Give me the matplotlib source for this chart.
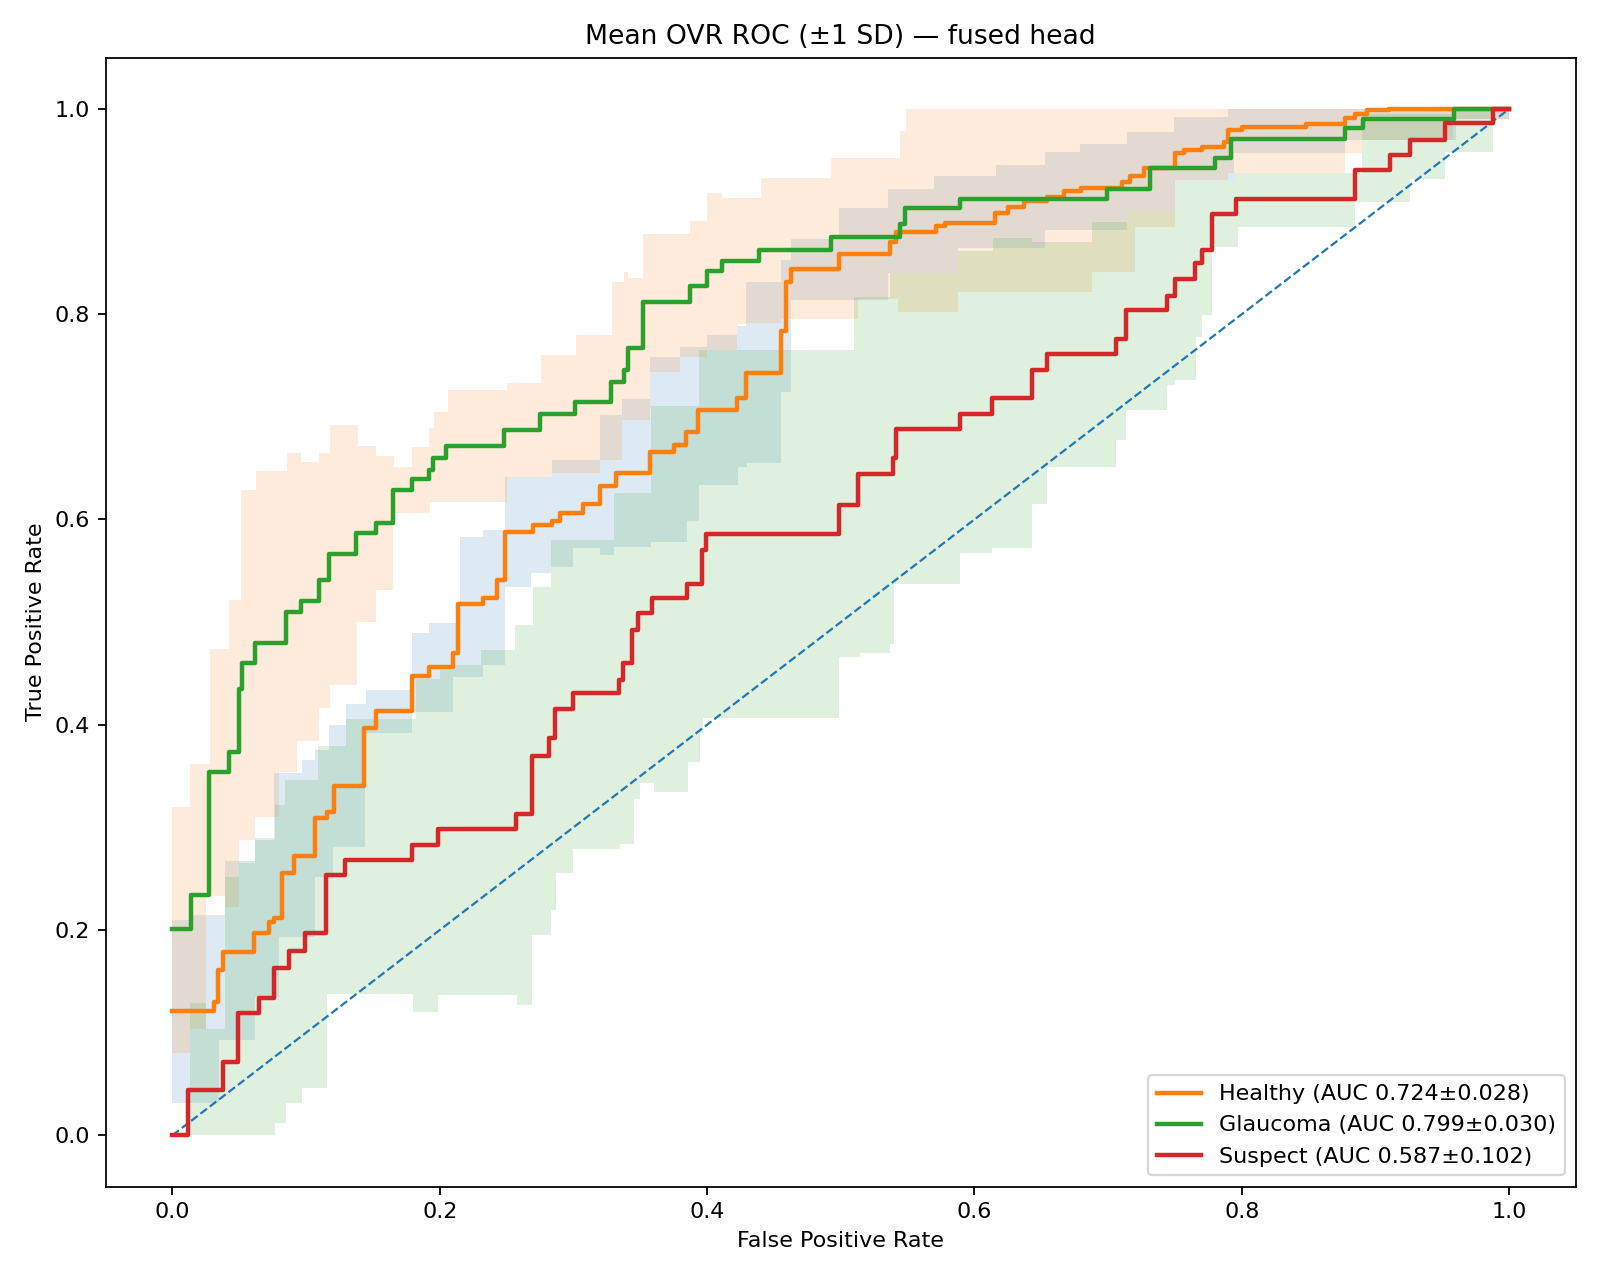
import numpy as np
import matplotlib
matplotlib.use("Agg")
import matplotlib.pyplot as plt

# mean TPR curves, step breakpoints (fpr, tpr)
healthy_fpr = [0.0, 0.031, 0.034, 0.038, 0.061, 0.072, 0.076, 0.082, 0.091, 0.107,
               0.116, 0.121, 0.143, 0.152, 0.179, 0.192, 0.210, 0.214, 0.232, 0.243,
               0.249, 0.270, 0.284, 0.290, 0.307, 0.320, 0.332, 0.357, 0.375, 0.384,
               0.393, 0.422, 0.429, 0.455, 0.459, 0.463, 0.499, 0.537, 0.541, 0.571,
               0.578, 0.615, 0.625, 0.637, 0.654, 0.667, 0.680, 0.710, 0.716, 0.727,
               0.750, 0.757, 0.770, 0.787, 0.790, 0.800, 0.848, 0.877, 0.885, 0.894,
               0.910, 1.0]
healthy_tpr = [0.121, 0.130, 0.161, 0.179, 0.197, 0.208, 0.212, 0.256, 0.272, 0.309,
               0.315, 0.340, 0.3965, 0.413, 0.447, 0.4565, 0.470, 0.518, 0.523, 0.541,
               0.588, 0.5945, 0.598, 0.606, 0.615, 0.633, 0.645, 0.666, 0.6725, 0.685,
               0.7065, 0.7186, 0.743, 0.784, 0.8315, 0.844, 0.8585, 0.870, 0.880, 0.886,
               0.889, 0.899, 0.904, 0.910, 0.914, 0.920, 0.923, 0.929, 0.935, 0.942,
               0.957, 0.960, 0.963, 0.968, 0.979, 0.982, 0.985, 0.9916, 0.995, 0.9987,
               1.0, 1.0]

glaucoma_fpr = [0.0, 0.014, 0.027, 0.042, 0.050, 0.052, 0.062, 0.085, 0.096, 0.110,
                0.117, 0.137, 0.152, 0.165, 0.179, 0.192, 0.195, 0.205, 0.248, 0.275,
                0.301, 0.328, 0.3375, 0.341, 0.352, 0.387, 0.400, 0.411, 0.439, 0.493,
                0.544, 0.548, 0.589, 0.699, 0.731, 0.780, 0.792, 0.877, 0.891, 0.959, 1.0]
glaucoma_tpr = [0.201, 0.234, 0.354, 0.373, 0.435, 0.460, 0.480, 0.510, 0.5205, 0.541,
                0.566, 0.5865, 0.597, 0.6286, 0.639, 0.648, 0.660, 0.672, 0.687, 0.7026,
                0.714, 0.734, 0.746, 0.7666, 0.812, 0.827, 0.842, 0.852, 0.8624, 0.8753,
                0.888, 0.903, 0.912, 0.9218, 0.942, 0.9517, 0.971, 0.981, 0.9906, 1.0, 1.0]

suspect_fpr = [0.0, 0.012, 0.038, 0.049, 0.065, 0.076, 0.087, 0.099, 0.115, 0.129,
               0.179, 0.199, 0.257, 0.269, 0.282, 0.286, 0.300, 0.334, 0.337, 0.344,
               0.348, 0.359, 0.385, 0.396, 0.399, 0.499, 0.513, 0.539, 0.541, 0.589,
               0.613, 0.643, 0.654, 0.706, 0.713, 0.744, 0.750, 0.765, 0.770, 0.778,
               0.796, 0.885, 0.911, 0.926, 0.952, 0.988, 1.0]
suspect_tpr = [0.0, 0.0436, 0.0718, 0.1195, 0.1335, 0.163, 0.180, 0.197, 0.2536, 0.268,
               0.2826, 0.298, 0.3127, 0.3698, 0.3867, 0.415, 0.4306, 0.444, 0.4598, 0.4923,
               0.5085, 0.523, 0.537, 0.570, 0.5858, 0.614, 0.644, 0.6595, 0.688, 0.7026,
               0.718, 0.746, 0.7608, 0.7754, 0.804, 0.8176, 0.834, 0.850, 0.863, 0.898,
               0.912, 0.940, 0.955, 0.9695, 0.9867, 1.0, 1.0]

# +-1 SD bands (clipped to [0, 1]), step breakpoints
healthy_hi_fpr = [0.0, 0.013, 0.039, 0.0615, 0.076, 0.097, 0.107, 0.117, 0.130, 0.145,
                  0.179, 0.192, 0.215, 0.232, 0.249, 0.284, 0.320, 0.336, 0.357, 0.380,
                  0.400, 0.422, 0.429, 0.455, 0.463, 0.499, 0.535, 0.570, 0.616, 0.653,
                  0.679, 0.714, 0.749, 0.790]
healthy_hi = [0.21, 0.215, 0.267, 0.288, 0.3527, 0.366, 0.375, 0.40, 0.42, 0.434,
              0.489, 0.4994, 0.583, 0.59, 0.6416, 0.658, 0.7017, 0.717, 0.7585, 0.768,
              0.7796, 0.788, 0.8315, 0.8526, 0.8737, 0.903, 0.922, 0.935, 0.945, 0.958,
              0.966, 0.9776, 0.992, 1.0]
healthy_lo_fpr = [0.0, 0.035, 0.0615, 0.08, 0.107, 0.12, 0.144, 0.179, 0.210, 0.232,
                  0.249, 0.268, 0.283, 0.300, 0.320, 0.330, 0.358, 0.385, 0.394, 0.423,
                  0.430, 0.455, 0.463, 0.535, 0.588, 0.653, 0.714, 0.750,
                  0.794, 0.877, 0.960]
healthy_lo = [0.031, 0.093, 0.135, 0.1935, 0.252, 0.281, 0.3916, 0.4127, 0.4468, 0.458,
              0.534, 0.548, 0.554, 0.572, 0.565, 0.573, 0.578, 0.598, 0.6335, 0.651,
              0.6546, 0.724, 0.8137, 0.84, 0.864, 0.882, 0.901, 0.93,
              0.957, 0.97, 0.99]

glaucoma_hi_fpr = [0.0, 0.013, 0.028, 0.042, 0.0515, 0.0624, 0.086, 0.0965, 0.110, 0.1177,
                   0.139, 0.1526, 0.166, 0.179, 0.192, 0.196, 0.206, 0.250, 0.276, 0.302,
                   0.329, 0.338, 0.341, 0.352, 0.387, 0.400, 0.411, 0.440, 0.493, 0.544,
                   0.549]
glaucoma_hi = [0.32, 0.362, 0.4735, 0.5215, 0.629, 0.647, 0.665, 0.6556, 0.665, 0.692,
               0.6715, 0.6617, 0.6507, 0.6708, 0.6887, 0.705, 0.726, 0.733, 0.760, 0.7796,
               0.8315, 0.841, 0.835, 0.8786, 0.891, 0.918, 0.913, 0.933, 0.9517, 0.978,
               1.0]
glaucoma_lo_fpr = [0.0, 0.013, 0.025, 0.039, 0.050, 0.0615, 0.08, 0.0935, 0.110, 0.1177,
                   0.138, 0.152, 0.165, 0.193, 0.250, 0.284, 0.320, 0.336, 0.357, 0.380,
                   0.400, 0.422, 0.430, 0.455, 0.513, 0.543, 0.588, 0.688, 0.720, 0.750,
                   0.790, 0.877, 0.890, 0.958]
glaucoma_lo = [0.08, 0.104, 0.233, 0.2228, 0.2877, 0.31, 0.354, 0.3845, 0.416, 0.4387,
               0.5004, 0.531, 0.606, 0.617, 0.6416, 0.645, 0.658, 0.697, 0.744, 0.7585,
               0.765, 0.79, 0.791, 0.795, 0.815, 0.802, 0.822, 0.841, 0.885, 0.9306,
               0.938, 0.9566, 0.9695, 0.99]

suspect_hi_fpr = [0.0, 0.0129, 0.025, 0.039, 0.050, 0.0615, 0.0765, 0.084, 0.109, 0.130,
                  0.1825, 0.200, 0.231, 0.256, 0.270, 0.283, 0.330, 0.358, 0.394, 0.510,
                  0.537, 0.588, 0.614, 0.643, 0.688, 0.714, 0.750, 0.794, 0.890, 0.958]
suspect_hi = [0.0, 0.1287, 0.104, 0.252, 0.265, 0.29, 0.322, 0.346, 0.379, 0.406,
              0.445, 0.458, 0.473, 0.497, 0.534, 0.58, 0.6254, 0.711, 0.765, 0.817,
              0.84, 0.862, 0.874, 0.87, 0.89, 0.901, 0.93, 0.938, 0.995, 1.0]
suspect_lo_fpr = [0.0, 0.077, 0.085, 0.097, 0.1157, 0.180, 0.199, 0.258, 0.269, 0.2835,
                  0.2866, 0.300, 0.335, 0.345, 0.350, 0.360, 0.386, 0.395, 0.397, 0.499,
                  0.514, 0.537, 0.540, 0.589, 0.613, 0.643, 0.654, 0.706, 0.713, 0.744,
                  0.750, 0.766, 0.770, 0.778, 0.797, 0.885, 0.926, 0.952, 0.988]
suspect_lo = [0.0, 0.012, 0.031, 0.046, 0.138, 0.12, 0.1367, 0.127, 0.195, 0.2196,
              0.256, 0.2787, 0.2838, 0.328, 0.3436, 0.334, 0.364, 0.3916, 0.407, 0.466,
              0.4695, 0.479, 0.537, 0.5676, 0.5718, 0.615, 0.651, 0.677, 0.7065, 0.731,
              0.736, 0.778, 0.799, 0.8656, 0.885, 0.909, 0.932, 0.958, 1.0]

labels = ["Healthy (AUC 0.724\u00b10.028)",
          "Glaucoma (AUC 0.799\u00b10.030)",
          "Suspect (AUC 0.587\u00b10.102)"]


def step_at(xs, ys, grid):
    # value of a post-step function at each grid point
    idx = np.searchsorted(np.asarray(xs), grid, side="right") - 1
    return np.asarray(ys)[np.clip(idx, 0, len(ys) - 1)]


def draw_band(ax, hi_x, hi_y, lo_x, lo_y, color):
    grid = np.unique(np.concatenate([hi_x, lo_x, [1.0]]))
    ax.fill_between(grid, step_at(lo_x, lo_y, grid), step_at(hi_x, hi_y, grid),
                    step="post", color=color, alpha=0.15, linewidth=0)


fig, ax = plt.subplots(figsize=(10, 8), dpi=160)
fig.subplots_adjust(left=0.066, right=0.985, bottom=0.073, top=0.955)

ax.plot([0, 1], [0, 1], "--", color="C0", lw=1)

draw_band(ax, healthy_hi_fpr, healthy_hi, healthy_lo_fpr, healthy_lo, "C0")
draw_band(ax, glaucoma_hi_fpr, glaucoma_hi, glaucoma_lo_fpr, glaucoma_lo, "C1")
draw_band(ax, suspect_hi_fpr, suspect_hi, suspect_lo_fpr, suspect_lo, "C2")

ax.plot(healthy_fpr, healthy_tpr, drawstyle="steps-post", color="C1", lw=2, label=labels[0])
ax.plot(glaucoma_fpr, glaucoma_tpr, drawstyle="steps-post", color="C2", lw=2, label=labels[1])
ax.plot(suspect_fpr, suspect_tpr, drawstyle="steps-post", color="C3", lw=2, label=labels[2])

ax.set_xlabel("False Positive Rate")
ax.set_ylabel("True Positive Rate")
ax.set_title("Mean OVR ROC (\u00b11 SD) \u2014 fused head")
ax.legend(loc="lower right")

fig.savefig("out.png")
